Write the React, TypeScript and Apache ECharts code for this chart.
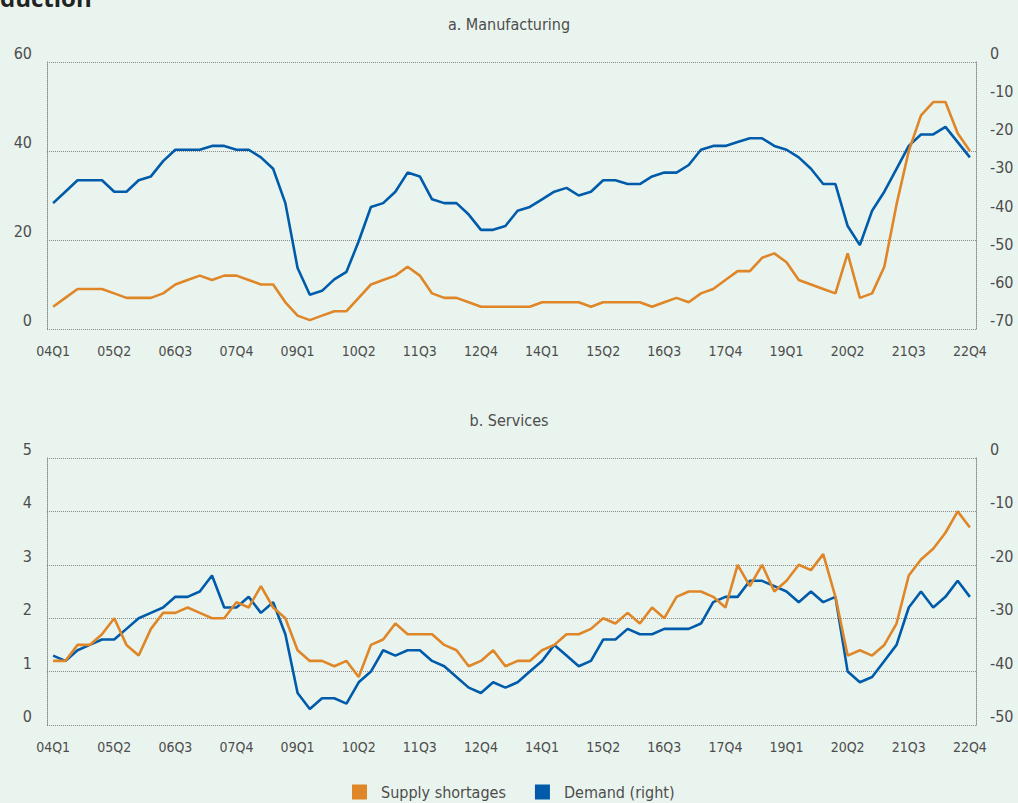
import React, { useEffect, useRef } from "react";
import * as echarts from "echarts";

const QUARTERS = [
  "04Q1","04Q2","04Q3","04Q4","05Q1","05Q2","05Q3","05Q4","06Q1","06Q2","06Q3","06Q4",
  "07Q1","07Q2","07Q3","07Q4","08Q1","08Q2","08Q3","08Q4","09Q1","09Q2","09Q3","09Q4",
  "10Q1","10Q2","10Q3","10Q4","11Q1","11Q2","11Q3","11Q4","12Q1","12Q2","12Q3","12Q4",
  "13Q1","13Q2","13Q3","13Q4","14Q1","14Q2","14Q3","14Q4","15Q1","15Q2","15Q3","15Q4",
  "16Q1","16Q2","16Q3","16Q4","17Q1","17Q2","17Q3","17Q4","18Q1","18Q2","18Q3","18Q4",
  "19Q1","19Q2","19Q3","19Q4","20Q1","20Q2","20Q3","20Q4","21Q1","21Q2","21Q3","21Q4",
  "22Q1","22Q2","22Q3","22Q4",
];

// a. Manufacturing
const SUPPLY_MFG = [
  5, 7, 9, 9, 9, 8, 7, 7, 7, 8,
  10, 11, 12, 11, 12, 12, 11, 10, 10, 6,
  3, 2, 3, 4, 4, 7, 10, 11, 12, 14,
  12, 8, 7, 7, 6, 5, 5, 5, 5, 5,
  6, 6, 6, 6, 5, 6, 6, 6, 6, 5,
  6, 7, 6, 8, 9, 11, 13, 13, 16, 17,
  15, 11, 10, 9, 8, 17, 7, 8, 14, 28,
  40, 48, 51, 51, 44, 40,
];
const DEMAND_MFG = [
  -37, -34, -31, -31, -31, -34, -34, -31, -30, -26,
  -23, -23, -23, -22, -22, -23, -23, -25, -28, -37,
  -54, -61, -60, -57, -55, -47, -38, -37, -34, -29,
  -30, -36, -37, -37, -40, -44, -44, -43, -39, -38,
  -36, -34, -33, -35, -34, -31, -31, -32, -32, -30,
  -29, -29, -27, -23, -22, -22, -21, -20, -20, -22,
  -23, -25, -28, -32, -32, -43, -48, -39, -34, -28,
  -22, -19, -19, -17, -21, -25,
];

// b. Services
const SUPPLY_SVC = [
  1.2, 1.2, 1.5, 1.5, 1.7, 2.0, 1.5, 1.3, 1.8, 2.1,
  2.1, 2.2, 2.1, 2.0, 2.0, 2.3, 2.2, 2.6, 2.2, 2.0,
  1.4, 1.2, 1.2, 1.1, 1.2, 0.9, 1.5, 1.6, 1.9, 1.7,
  1.7, 1.7, 1.5, 1.4, 1.1, 1.2, 1.4, 1.1, 1.2, 1.2,
  1.4, 1.5, 1.7, 1.7, 1.8, 2.0, 1.9, 2.1, 1.9, 2.2,
  2.0, 2.4, 2.5, 2.5, 2.4, 2.2, 3.0, 2.6, 3.0, 2.5,
  2.7, 3.0, 2.9, 3.2, 2.4, 1.3, 1.4, 1.3, 1.5, 1.9,
  2.8, 3.1, 3.3, 3.6, 4.0, 3.7,
];
const DEMAND_SVC = [
  -37, -38, -36, -35, -34, -34, -32, -30, -29, -28,
  -26, -26, -25, -22, -28, -28, -26, -29, -27, -33,
  -44, -47, -45, -45, -46, -42, -40, -36, -37, -36,
  -36, -38, -39, -41, -43, -44, -42, -43, -42, -40,
  -38, -35, -37, -39, -38, -34, -34, -32, -33, -33,
  -32, -32, -32, -31, -27, -26, -26, -23, -23, -24,
  -25, -27, -25, -27, -26, -40, -42, -41, -38, -35,
  -28, -25, -28, -26, -23, -26,
];

const TITLES = ["a. Manufacturing", "b. Services"];
const SERIES_NAMES = ["Supply shortages", "Demand (right)"];

const ORANGE = "#DE8628";
const BLUE = "#005BAA";
const TEXT = "#4d4d4d";
const GRIDC = "#8a8a8a";
const FONT = '"DejaVu Sans Condensed", "Liberation Sans Narrow", sans-serif';

export default function App() {
  const ref = useRef<HTMLDivElement>(null);

  useEffect(() => {
    if (!ref.current) return;
    const chart = echarts.init(ref.current, undefined, { renderer: "svg" });

    const yLabel = (align: string) => ({
      color: TEXT,
      fontSize: 16,
      fontFamily: FONT,
      verticalAlign: "bottom",
      lineHeight: 17,
      align,
      margin: align === "right" ? 15 : 14,
    });
    const dotted = { type: "dotted", color: GRIDC, width: 1 };

    const xAxis = (gridIndex: number) => ({
      type: "category",
      gridIndex,
      data: QUARTERS,
      boundaryGap: true,
      axisLine: { show: false },
      axisTick: { show: false },
      splitLine: { show: false },
      axisLabel: {
        interval: 4,
        color: TEXT,
        fontSize: 14,
        fontFamily: FONT,
        margin: 15,
      },
    });

    const leftAxis = (gridIndex: number, min: number, max: number, interval: number) => ({
      type: "value",
      gridIndex,
      position: "left",
      min,
      max,
      interval,
      axisLine: { show: true, lineStyle: dotted },
      axisTick: { show: false },
      splitLine: { show: true, lineStyle: dotted },
      axisLabel: yLabel("right"),
    });
    const rightAxis = (gridIndex: number, min: number, max: number, interval: number) => ({
      type: "value",
      gridIndex,
      position: "right",
      min,
      max,
      interval,
      axisLine: { show: true, lineStyle: dotted },
      axisTick: { show: false },
      splitLine: { show: false },
      axisLabel: yLabel("left"),
    });

    const line = (name: string, data: number[], color: string, xi: number, yi: number) => ({
      name,
      type: "line",
      data,
      xAxisIndex: xi,
      yAxisIndex: yi,
      symbol: "none",
      color,
      lineStyle: { color, width: 2.6 },
    });

    const titleStyle = { color: TEXT, fontSize: 16, fontWeight: "normal", fontFamily: FONT };

    chart.setOption({
      animation: false,
      backgroundColor: "#EAF4EE",
      title: [
        { text: TITLES[0], left: "center", top: 16, padding: 0, textStyle: titleStyle },
        { text: TITLES[1], left: "center", top: 412, padding: 0, textStyle: titleStyle },
      ],
      graphic: [
        {
          type: "text",
          left: 0,
          top: -15,
          style: {
            text: "duction",
            fill: "#222",
            font: 'bold 24px "Open Sans", "DejaVu Sans", sans-serif',
          },
        },
      ],
      legend: {
        data: SERIES_NAMES,
        left: 352,
        top: 784,
        padding: 0,
        icon: "rect",
        itemWidth: 15,
        itemHeight: 15,
        itemGap: 29,
        textStyle: { color: TEXT, fontSize: 16, fontFamily: FONT, padding: [0, 0, 0, 9] },
      },
      grid: [
        { left: 47, right: 42, top: 62, height: 267, containLabel: false, outerBoundsMode: "none" },
        { left: 47, right: 42, top: 458, height: 267, containLabel: false, outerBoundsMode: "none" },
      ],
      xAxis: [xAxis(0), xAxis(1)],
      yAxis: [
        leftAxis(0, 0, 60, 20),
        rightAxis(0, -70, 0, 10),
        leftAxis(1, 0, 5, 1),
        rightAxis(1, -50, 0, 10),
      ],
      series: [
        line(SERIES_NAMES[1], DEMAND_MFG, BLUE, 0, 1),
        line(SERIES_NAMES[0], SUPPLY_MFG, ORANGE, 0, 0),
        line(SERIES_NAMES[1], DEMAND_SVC, BLUE, 1, 3),
        line(SERIES_NAMES[0], SUPPLY_SVC, ORANGE, 1, 2),
      ],
    });

    return () => chart.dispose();
  }, []);

  return (
    <div
      ref={ref}
      style={{ position: "fixed", left: 0, top: 0, width: 1018, height: 803 }}
    />
  );
}
